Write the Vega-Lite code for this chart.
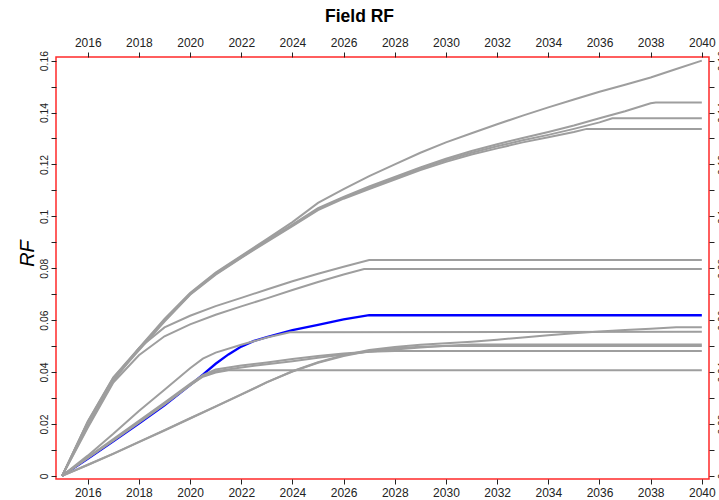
{
  "$schema": "https://vega.github.io/schema/vega-lite/v6.json",
  "width": 653,
  "height": 422,
  "autosize": {"type": "none"},
  "padding": {"left": 56, "top": 57, "right": 10, "bottom": 21},
  "background": "white",
  "title": {"text": "Field RF", "font": "Liberation Sans", "fontSize": 17.5, "fontWeight": "bold", "color": "#000000", "anchor": "middle", "frame": "group", "dx": -23, "offset": 11},
  "config": {
    "view": {"stroke": "#ff2a2a", "strokeWidth": 1.5},
    "axis": {"grid": false, "domain": false, "tickColor": "#222222", "tickSize": 5, "tickWidth": 1, "labelFont": "Liberation Sans", "labelColor": "#222222", "titleFont": "Liberation Sans"}
  },
  "datasets": {
    "blue": [
      {"x": 2015, "y": 0}, {"x": 2016, "y": 0.0066}, {"x": 2017, "y": 0.0133}, {"x": 2018, "y": 0.0202}, {"x": 2019, "y": 0.0272}, {"x": 2020, "y": 0.035}, {"x": 2020.5, "y": 0.039}, {"x": 2021, "y": 0.0432}, {"x": 2021.5, "y": 0.0468}, {"x": 2022, "y": 0.0498}, {"x": 2022.5, "y": 0.052}, {"x": 2023, "y": 0.0535}, {"x": 2024, "y": 0.0562}, {"x": 2025, "y": 0.0582}, {"x": 2026, "y": 0.0603}, {"x": 2027, "y": 0.0619}, {"x": 2040, "y": 0.0619}
    ],
    "gray": [
      {"s": "A1", "x": 2015, "y": 0}, {"s": "A1", "x": 2016, "y": 0.021}, {"s": "A1", "x": 2017, "y": 0.038}, {"s": "A1", "x": 2018, "y": 0.0492}, {"s": "A1", "x": 2019, "y": 0.0605}, {"s": "A1", "x": 2020, "y": 0.0705}, {"s": "A1", "x": 2021, "y": 0.0783}, {"s": "A1", "x": 2022, "y": 0.0848}, {"s": "A1", "x": 2023, "y": 0.0912}, {"s": "A1", "x": 2024, "y": 0.0978}, {"s": "A1", "x": 2025, "y": 0.1052}, {"s": "A1", "x": 2026, "y": 0.1105}, {"s": "A1", "x": 2027, "y": 0.1155}, {"s": "A1", "x": 2028, "y": 0.12}, {"s": "A1", "x": 2029, "y": 0.1245}, {"s": "A1", "x": 2030, "y": 0.1285}, {"s": "A1", "x": 2031, "y": 0.132}, {"s": "A1", "x": 2032, "y": 0.1355}, {"s": "A1", "x": 2033, "y": 0.1388}, {"s": "A1", "x": 2034, "y": 0.142}, {"s": "A1", "x": 2035, "y": 0.145}, {"s": "A1", "x": 2036, "y": 0.148}, {"s": "A1", "x": 2037, "y": 0.1507}, {"s": "A1", "x": 2038, "y": 0.1535}, {"s": "A1", "x": 2039, "y": 0.1568}, {"s": "A1", "x": 2040, "y": 0.16},
      {"s": "A2", "x": 2015, "y": 0}, {"s": "A2", "x": 2016, "y": 0.0205}, {"s": "A2", "x": 2017, "y": 0.0375}, {"s": "A2", "x": 2018, "y": 0.049}, {"s": "A2", "x": 2019, "y": 0.06}, {"s": "A2", "x": 2020, "y": 0.0702}, {"s": "A2", "x": 2021, "y": 0.078}, {"s": "A2", "x": 2022, "y": 0.0845}, {"s": "A2", "x": 2023, "y": 0.0908}, {"s": "A2", "x": 2024, "y": 0.0968}, {"s": "A2", "x": 2025, "y": 0.1032}, {"s": "A2", "x": 2026, "y": 0.1075}, {"s": "A2", "x": 2027, "y": 0.1115}, {"s": "A2", "x": 2028, "y": 0.1152}, {"s": "A2", "x": 2029, "y": 0.1188}, {"s": "A2", "x": 2030, "y": 0.1222}, {"s": "A2", "x": 2031, "y": 0.1252}, {"s": "A2", "x": 2032, "y": 0.1278}, {"s": "A2", "x": 2033, "y": 0.1302}, {"s": "A2", "x": 2034, "y": 0.1325}, {"s": "A2", "x": 2035, "y": 0.135}, {"s": "A2", "x": 2036, "y": 0.1378}, {"s": "A2", "x": 2037, "y": 0.1405}, {"s": "A2", "x": 2038, "y": 0.1436}, {"s": "A2", "x": 2038.2, "y": 0.1439}, {"s": "A2", "x": 2040, "y": 0.1439},
      {"s": "A3", "x": 2015, "y": 0}, {"s": "A3", "x": 2016, "y": 0.0208}, {"s": "A3", "x": 2017, "y": 0.0378}, {"s": "A3", "x": 2018, "y": 0.0487}, {"s": "A3", "x": 2019, "y": 0.0598}, {"s": "A3", "x": 2020, "y": 0.07}, {"s": "A3", "x": 2021, "y": 0.0778}, {"s": "A3", "x": 2022, "y": 0.0842}, {"s": "A3", "x": 2023, "y": 0.0905}, {"s": "A3", "x": 2024, "y": 0.0965}, {"s": "A3", "x": 2025, "y": 0.1028}, {"s": "A3", "x": 2026, "y": 0.1072}, {"s": "A3", "x": 2027, "y": 0.111}, {"s": "A3", "x": 2028, "y": 0.1148}, {"s": "A3", "x": 2029, "y": 0.1183}, {"s": "A3", "x": 2030, "y": 0.1216}, {"s": "A3", "x": 2031, "y": 0.1245}, {"s": "A3", "x": 2032, "y": 0.127}, {"s": "A3", "x": 2033, "y": 0.1293}, {"s": "A3", "x": 2034, "y": 0.1314}, {"s": "A3", "x": 2035, "y": 0.1337}, {"s": "A3", "x": 2036, "y": 0.1362}, {"s": "A3", "x": 2036.5, "y": 0.1378}, {"s": "A3", "x": 2040, "y": 0.1378},
      {"s": "A4", "x": 2015, "y": 0}, {"s": "A4", "x": 2016, "y": 0.0203}, {"s": "A4", "x": 2017, "y": 0.0372}, {"s": "A4", "x": 2018, "y": 0.0484}, {"s": "A4", "x": 2019, "y": 0.0595}, {"s": "A4", "x": 2020, "y": 0.0698}, {"s": "A4", "x": 2021, "y": 0.0775}, {"s": "A4", "x": 2022, "y": 0.084}, {"s": "A4", "x": 2023, "y": 0.0902}, {"s": "A4", "x": 2024, "y": 0.0962}, {"s": "A4", "x": 2025, "y": 0.1024}, {"s": "A4", "x": 2026, "y": 0.1068}, {"s": "A4", "x": 2027, "y": 0.1105}, {"s": "A4", "x": 2028, "y": 0.1142}, {"s": "A4", "x": 2029, "y": 0.1178}, {"s": "A4", "x": 2030, "y": 0.121}, {"s": "A4", "x": 2031, "y": 0.1238}, {"s": "A4", "x": 2032, "y": 0.1262}, {"s": "A4", "x": 2033, "y": 0.1285}, {"s": "A4", "x": 2034, "y": 0.1305}, {"s": "A4", "x": 2035, "y": 0.1325}, {"s": "A4", "x": 2035.5, "y": 0.1337}, {"s": "A4", "x": 2040, "y": 0.1337},
      {"s": "B1", "x": 2015, "y": 0}, {"s": "B1", "x": 2016, "y": 0.019}, {"s": "B1", "x": 2017, "y": 0.0365}, {"s": "B1", "x": 2018, "y": 0.0492}, {"s": "B1", "x": 2019, "y": 0.0572}, {"s": "B1", "x": 2020, "y": 0.0617}, {"s": "B1", "x": 2021, "y": 0.0654}, {"s": "B1", "x": 2022, "y": 0.0686}, {"s": "B1", "x": 2023, "y": 0.0718}, {"s": "B1", "x": 2024, "y": 0.075}, {"s": "B1", "x": 2025, "y": 0.0779}, {"s": "B1", "x": 2026, "y": 0.0806}, {"s": "B1", "x": 2027, "y": 0.0832}, {"s": "B1", "x": 2040, "y": 0.0832},
      {"s": "B2", "x": 2015, "y": 0}, {"s": "B2", "x": 2016, "y": 0.0185}, {"s": "B2", "x": 2017, "y": 0.036}, {"s": "B2", "x": 2018, "y": 0.0465}, {"s": "B2", "x": 2019, "y": 0.0538}, {"s": "B2", "x": 2020, "y": 0.0584}, {"s": "B2", "x": 2021, "y": 0.0621}, {"s": "B2", "x": 2022, "y": 0.0653}, {"s": "B2", "x": 2023, "y": 0.0684}, {"s": "B2", "x": 2024, "y": 0.0716}, {"s": "B2", "x": 2025, "y": 0.0747}, {"s": "B2", "x": 2026, "y": 0.0776}, {"s": "B2", "x": 2026.8, "y": 0.0797}, {"s": "B2", "x": 2040, "y": 0.0797},
      {"s": "C1", "x": 2015, "y": 0}, {"s": "C1", "x": 2016, "y": 0.0078}, {"s": "C1", "x": 2017, "y": 0.0162}, {"s": "C1", "x": 2018, "y": 0.025}, {"s": "C1", "x": 2019, "y": 0.0332}, {"s": "C1", "x": 2020, "y": 0.0415}, {"s": "C1", "x": 2020.5, "y": 0.0452}, {"s": "C1", "x": 2021, "y": 0.0475}, {"s": "C1", "x": 2022, "y": 0.0505}, {"s": "C1", "x": 2023, "y": 0.0533}, {"s": "C1", "x": 2023.9, "y": 0.0553}, {"s": "C1", "x": 2040, "y": 0.0555},
      {"s": "E1", "x": 2015, "y": 0}, {"s": "E1", "x": 2016, "y": 0.007}, {"s": "E1", "x": 2017, "y": 0.0138}, {"s": "E1", "x": 2018, "y": 0.0207}, {"s": "E1", "x": 2019, "y": 0.0277}, {"s": "E1", "x": 2020, "y": 0.035}, {"s": "E1", "x": 2020.5, "y": 0.0382}, {"s": "E1", "x": 2021, "y": 0.0398}, {"s": "E1", "x": 2021.5, "y": 0.0407}, {"s": "E1", "x": 2040, "y": 0.0407},
      {"s": "E2", "x": 2015, "y": 0}, {"s": "E2", "x": 2016, "y": 0.0072}, {"s": "E2", "x": 2017, "y": 0.0142}, {"s": "E2", "x": 2018, "y": 0.0212}, {"s": "E2", "x": 2019, "y": 0.0283}, {"s": "E2", "x": 2020, "y": 0.0355}, {"s": "E2", "x": 2020.5, "y": 0.0388}, {"s": "E2", "x": 2021, "y": 0.041}, {"s": "E2", "x": 2022, "y": 0.0425}, {"s": "E2", "x": 2023, "y": 0.0437}, {"s": "E2", "x": 2024, "y": 0.045}, {"s": "E2", "x": 2025, "y": 0.0462}, {"s": "E2", "x": 2026, "y": 0.0472}, {"s": "E2", "x": 2027, "y": 0.0478}, {"s": "E2", "x": 2028, "y": 0.0481}, {"s": "E2", "x": 2029, "y": 0.0481}, {"s": "E2", "x": 2040, "y": 0.0481},
      {"s": "E3", "x": 2015, "y": 0}, {"s": "E3", "x": 2016, "y": 0.0068}, {"s": "E3", "x": 2017, "y": 0.0136}, {"s": "E3", "x": 2018, "y": 0.0205}, {"s": "E3", "x": 2019, "y": 0.0275}, {"s": "E3", "x": 2020, "y": 0.0348}, {"s": "E3", "x": 2020.5, "y": 0.0385}, {"s": "E3", "x": 2021, "y": 0.0403}, {"s": "E3", "x": 2022, "y": 0.0418}, {"s": "E3", "x": 2023, "y": 0.043}, {"s": "E3", "x": 2024, "y": 0.0442}, {"s": "E3", "x": 2025, "y": 0.0455}, {"s": "E3", "x": 2026, "y": 0.0468}, {"s": "E3", "x": 2027, "y": 0.0478}, {"s": "E3", "x": 2028, "y": 0.0487}, {"s": "E3", "x": 2029, "y": 0.0495}, {"s": "E3", "x": 2030, "y": 0.0501}, {"s": "E3", "x": 2031, "y": 0.0506}, {"s": "E3", "x": 2040, "y": 0.0506},
      {"s": "F1", "x": 2015, "y": 0}, {"s": "F1", "x": 2016, "y": 0.0042}, {"s": "F1", "x": 2017, "y": 0.0085}, {"s": "F1", "x": 2018, "y": 0.013}, {"s": "F1", "x": 2019, "y": 0.0175}, {"s": "F1", "x": 2020, "y": 0.0221}, {"s": "F1", "x": 2021, "y": 0.0267}, {"s": "F1", "x": 2022, "y": 0.0313}, {"s": "F1", "x": 2023, "y": 0.036}, {"s": "F1", "x": 2024, "y": 0.0403}, {"s": "F1", "x": 2025, "y": 0.0438}, {"s": "F1", "x": 2026, "y": 0.0465}, {"s": "F1", "x": 2027, "y": 0.0485}, {"s": "F1", "x": 2028, "y": 0.0497}, {"s": "F1", "x": 2029, "y": 0.0505}, {"s": "F1", "x": 2030, "y": 0.0511}, {"s": "F1", "x": 2031, "y": 0.0517}, {"s": "F1", "x": 2032, "y": 0.0525}, {"s": "F1", "x": 2033, "y": 0.0533}, {"s": "F1", "x": 2034, "y": 0.0542}, {"s": "F1", "x": 2035, "y": 0.055}, {"s": "F1", "x": 2036, "y": 0.0556}, {"s": "F1", "x": 2037, "y": 0.0562}, {"s": "F1", "x": 2038, "y": 0.0567}, {"s": "F1", "x": 2039, "y": 0.0573}, {"s": "F1", "x": 2040, "y": 0.0573},
      {"s": "F2", "x": 2015, "y": 0}, {"s": "F2", "x": 2016, "y": 0.0043}, {"s": "F2", "x": 2017, "y": 0.0086}, {"s": "F2", "x": 2018, "y": 0.0131}, {"s": "F2", "x": 2019, "y": 0.0176}, {"s": "F2", "x": 2020, "y": 0.0222}, {"s": "F2", "x": 2021, "y": 0.0268}, {"s": "F2", "x": 2022, "y": 0.0314}, {"s": "F2", "x": 2023, "y": 0.0361}, {"s": "F2", "x": 2024, "y": 0.0402}, {"s": "F2", "x": 2025, "y": 0.0436}, {"s": "F2", "x": 2026, "y": 0.0462}, {"s": "F2", "x": 2027, "y": 0.0481}, {"s": "F2", "x": 2028, "y": 0.0492}, {"s": "F2", "x": 2029, "y": 0.0498}, {"s": "F2", "x": 2030, "y": 0.05}, {"s": "F2", "x": 2040, "y": 0.05}
    ]
  },
  "layer": [
    {
      "data": {"name": "blue"},
      "mark": {"type": "line", "color": "#0000ff", "strokeWidth": 2.3},
      "encoding": {
        "x": {"field": "x", "type": "quantitative",
          "scale": {"domain": [2014.76, 2040.28], "nice": false, "zero": false},
          "axis": {"orient": "bottom", "values": [2016, 2018, 2020, 2022, 2024, 2026, 2028, 2030, 2032, 2034, 2036, 2038, 2040], "format": "d", "labelFontSize": 12, "labelPadding": 3, "labelFlush": false, "labelOverlap": false, "title": null}},
        "y": {"field": "y", "type": "quantitative",
          "scale": {"domain": [-0.0012, 0.1614], "nice": false, "zero": false},
          "axis": {"orient": "left", "values": [0, 0.01, 0.02, 0.03, 0.04, 0.05, 0.06, 0.07, 0.08, 0.09, 0.1, 0.11, 0.12, 0.13, 0.14, 0.15, 0.16],
            "labelExpr": "round(datum.value*100) % 2 == 0 ? '' + round(datum.value*100)/100 : ''",
            "labelAngle": 270, "labelAlign": "center", "labelBaseline": "alphabetic", "labelPadding": 4, "labelFontSize": 10.3, "labelFlush": false, "labelOverlap": false,
            "title": "RF", "titleFont": "Liberation Sans", "titleFontStyle": "italic", "titleFontWeight": "normal", "titleFontSize": 20, "titleColor": "#000000",
            "titleAngle": 270, "titleAlign": "center", "titleBaseline": "middle", "titleX": -29, "titleY": 196}}
      }
    },
    {
      "data": {"name": "gray"},
      "mark": {"type": "line", "color": "#9e9e9e", "strokeWidth": 2},
      "encoding": {
        "detail": {"field": "s", "type": "nominal"},
        "x": {"field": "x", "type": "quantitative",
          "scale": {"domain": [2014.76, 2040.28], "nice": false, "zero": false},
          "axis": {"orient": "top", "values": [2016, 2018, 2020, 2022, 2024, 2026, 2028, 2030, 2032, 2034, 2036, 2038, 2040], "format": "d", "labelFontSize": 12, "labelPadding": 3, "labelFlush": false, "labelOverlap": false, "title": null}},
        "y": {"field": "y", "type": "quantitative",
          "scale": {"domain": [-0.0012, 0.1614], "nice": false, "zero": false},
          "axis": {"orient": "right", "values": [0, 0.01, 0.02, 0.03, 0.04, 0.05, 0.06, 0.07, 0.08, 0.09, 0.1, 0.11, 0.12, 0.13, 0.14, 0.15, 0.16],
            "labelExpr": "round(datum.value*100) % 2 == 0 ? '' + round(datum.value*100)/100 : ''",
            "labelAngle": 270, "labelAlign": "center", "labelBaseline": "top", "labelPadding": 3, "labelFontSize": 10.3, "labelFlush": false, "labelOverlap": false, "title": null}}
      }
    }
  ],
  "resolve": {"axis": {"x": "independent", "y": "independent"}}
}
